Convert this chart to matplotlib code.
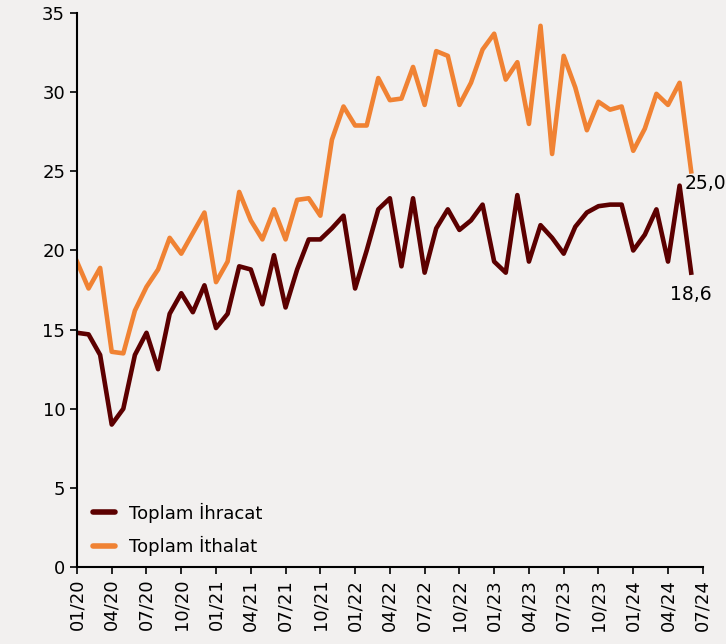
import matplotlib
matplotlib.use('Agg')
import matplotlib.pyplot as plt

plt.rcParams['font.family'] = ['DejaVu Sans Condensed', 'DejaVu Sans']

# monthly values, 01/20 .. 06/24
months = list(range(54))
ihracat = [14.8, 14.7, 13.4, 9.0, 10.0, 13.4, 14.8, 12.5, 16.0, 17.3, 16.1, 17.8,
           15.1, 16.0, 19.0, 18.8, 16.6, 19.7, 16.4, 18.8, 20.7, 20.7, 21.4, 22.2,
           17.6, 20.0, 22.6, 23.3, 19.0, 23.3, 18.6, 21.4, 22.6, 21.3, 21.9, 22.9,
           19.3, 18.6, 23.5, 19.3, 21.6, 20.8, 19.8, 21.5, 22.4, 22.8, 22.9, 22.9,
           20.0, 21.0, 22.6, 19.3, 24.1, 18.6]
ithalat = [19.3, 17.6, 18.9, 13.6, 13.5, 16.2, 17.7, 18.8, 20.8, 19.8, 21.1, 22.4,
           18.0, 19.3, 23.7, 21.9, 20.7, 22.6, 20.7, 23.2, 23.3, 22.2, 27.0, 29.1,
           27.9, 27.9, 30.9, 29.5, 29.6, 31.6, 29.2, 32.6, 32.3, 29.2, 30.6, 32.7,
           33.7, 30.8, 31.9, 28.0, 34.2, 26.1, 32.3, 30.3, 27.6, 29.4, 28.9, 29.1,
           26.3, 27.7, 29.9, 29.2, 30.6, 25.0]
tick_labels = ['01/20', '04/20', '07/20', '10/20', '01/21', '04/21', '07/21', '10/21',
               '01/22', '04/22', '07/22', '10/22', '01/23', '04/23', '07/23', '10/23',
               '01/24', '04/24', '07/24']

bg = '#f2f0ef'
fig = plt.figure(figsize=(7.26, 6.44), dpi=100, facecolor=bg)
ax = fig.add_axes([0.106, 0.1196, 0.862, 0.860], facecolor=bg)

ax.plot(months, ihracat, color='#5c0000', lw=3.3, label='Toplam İhracat')
ax.plot(months, ithalat, color='#f08233', lw=3.3, label='Toplam İthalat')

ax.set_xlim(0, 54)
ax.set_ylim(0, 35)
ax.set_yticks(range(0, 36, 5))
ax.set_xticks(range(0, 55, 3))
ax.set_xticklabels(tick_labels, rotation=90, fontsize=13)
ax.tick_params(axis='y', labelsize=13)
ax.tick_params(direction='out', length=5, width=1.2)

for side in ['top', 'right']:
    ax.spines[side].set_visible(False)
for side in ['left', 'bottom']:
    ax.spines[side].set_linewidth(1.5)

# end labels
ax.annotate('25,0', (months[-1], ithalat[-1]), xytext=(-5, -2),
            textcoords='offset points', ha='left', va='top', fontsize=13.5)
ax.annotate('18,6', (months[-1], ihracat[-1]), xytext=(0, -9),
            textcoords='offset points', ha='center', va='top', fontsize=13.5)

leg = ax.legend(loc='lower left', bbox_to_anchor=(0.0, -0.01), frameon=False,
                fontsize=13, handlelength=1.2, labelspacing=0.75)
for line in leg.get_lines():
    line.set_solid_capstyle('round')
    line.set_linewidth(4)

fig.savefig('out.png', dpi=100, facecolor=bg)
